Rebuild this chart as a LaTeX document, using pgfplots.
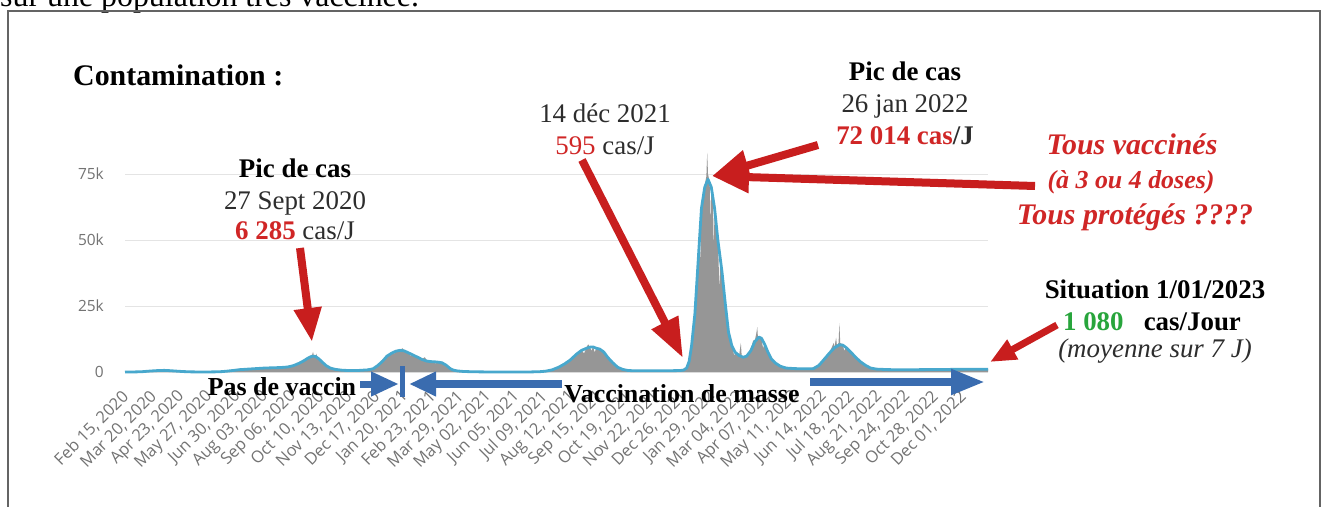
\documentclass[border=0pt]{standalone}
\usepackage{pgfplots}
\pgfplotsset{compat=1.18}
\usepackage{pgfplotstable}
\usepackage{fontspec}
\setmainfont{Liberation Serif}
\newfontfamily\tickfont{Open Sans}
\usetikzlibrary{arrows.meta}
\definecolor{annred}{RGB}{208,38,38}
\definecolor{arrred}{RGB}{200,30,30}
\definecolor{anngreen}{RGB}{40,165,60}
\definecolor{lineblue}{RGB}{72,168,205}
\definecolor{barsgray}{RGB}{150,150,150}
\definecolor{gridgray}{RGB}{228,228,228}
\definecolor{tickgray}{RGB}{115,115,115}
\definecolor{arrblue}{RGB}{58,108,175}
\definecolor{txtdark}{RGB}{45,45,45}
\definecolor{framegray}{RGB}{100,100,100}
\newcommand\fs[1]{\fontsize{#1}{#1}\selectfont}

\pgfplotstableread{
d v
0 0
10 20
20 100
30 350
40 550
48 620
55 500
62 350
70 180
80 60
90 20
100 20
110 60
118 150
125 350
132 600
140 900
150 1100
160 1300
170 1500
180 1600
190 1700
198 1900
205 2400
212 3300
218 4300
223 5300
228 6000
232 5900
236 5000
240 3800
245 2400
250 1500
256 1000
265 650
275 550
285 600
295 800
302 1200
308 2500
314 4200
319 6000
325 7200
330 7900
335 8200
340 8000
345 7300
351 6400
357 5500
362 4700
368 4100
374 3900
380 3800
386 3500
391 2600
396 1300
400 700
405 400
412 200
425 80
440 30
460 20
480 20
495 40
505 120
512 300
520 800
528 1800
535 3000
542 4500
550 6800
556 8200
562 9000
566 9400
570 9500
574 9000
578 8700
583 7600
588 5500
594 3500
600 1800
606 1000
612 600
620 450
635 450
650 500
665 500
675 550
680 700
684 1500
687 4000
690 10000
694 22000
698 42000
702 62000
706 70000
710 73000
714 70000
718 62000
722 50000
727 38000
731 26000
735 15000
739 10000
743 7500
748 6200
753 5600
757 6000
762 8000
767 11500
772 13200
775 12800
779 10500
783 7500
787 5000
792 3400
798 2200
805 1500
815 1300
825 1200
838 1200
845 2500
852 5000
858 7200
864 9200
870 10300
874 10200
878 9300
884 7500
890 5500
896 3800
902 2500
908 1500
915 1100
930 900
950 850
970 900
990 950
1010 1000
1030 1050
1051 1080
}\avgtab

\pgfplotstableread{
d v
0 0
10 30
20 120
30 400
40 600
44 750
48 600
55 450
62 350
70 150
80 50
90 20
100 30
110 80
118 180
125 400
132 700
140 1000
150 1200
160 1400
170 1600
180 1700
190 1900
198 2000
205 2600
212 3500
218 4500
221 5200
222 4200
223 5600
226 6300
227 5000
228 6600
229 7600
230 6200
232 5800
233 7000
234 5600
236 5000
240 3800
245 2400
250 1500
256 1000
265 650
275 550
285 600
295 800
302 1200
308 2600
314 4400
319 6200
325 7400
328 7000
330 8100
332 7600
335 8400
338 9000
340 8200
345 7500
348 6200
351 6600
357 5700
362 4900
365 5600
368 4300
374 4000
378 3200
380 4000
386 3600
391 2700
396 1400
400 700
405 400
412 200
425 80
440 30
460 20
480 20
495 40
505 130
512 320
520 850
528 1900
535 3200
542 4800
546 6000
550 7000
553 8000
556 8400
559 7000
562 9300
564 10500
566 9600
568 8000
570 9700
572 7400
574 9200
578 8900
581 8200
583 7800
588 5700
594 3600
600 1900
606 1000
612 600
620 450
635 450
650 500
665 500
675 550
680 700
684 1600
687 4200
690 11000
694 23000
698 44000
700 52000
701 40000
702 63000
704 68000
706 71000
708 74000
709 83000
710 75000
712 72000
713 55000
714 71000
716 66000
717 45000
718 63000
720 57000
722 51000
724 30000
725 46000
727 39000
731 27000
733 20000
735 16000
739 10500
742 6000
743 8000
748 6500
750 11000
751 6000
753 5800
757 6200
762 8300
765 12000
767 11800
769 15000
770 17000
771 12000
772 13500
775 13000
777 9000
779 10800
783 7800
787 5200
792 3500
798 2300
805 1600
815 1300
825 1300
835 1300
838 1800
845 2700
850 4500
852 5200
855 6500
858 7500
861 9500
863 11000
864 9400
866 13000
867 10000
869 11000
870 18500
871 11000
874 10500
876 8000
878 9500
884 7700
890 5700
896 3900
902 2600
908 1600
915 1100
930 900
950 850
970 900
990 950
1010 1000
1030 1050
1051 1080
}\dailytab

\begin{document}
\begin{tikzpicture}[x=1bp,y=-1bp]
\useasboundingbox (0,0) rectangle (1333,507);
\clip (0,0) rectangle (1333,507);
\fill[white] (0,0) rectangle (1333,507);
\node[anchor=base west, inner sep=0, font=\fs{32}, text=black] at (0,7) {sur une population très vaccinée.};
\draw[line width=2bp, framegray] (8,11) rectangle (1320,560);

\begin{axis}[
  at={(125bp,-372bp)}, anchor=south west,
  scale only axis, width=863bp, height=198bp,
  xmin=0, xmax=1051, ymin=0, ymax=75000,
  clip=false,
  axis line style={draw=none},
  major tick length=0pt,
  ymajorgrids, grid style={gridgray, line width=1bp},
  ytick={0,25000,50000,75000},
  yticklabels={0,25k,50k,75k},
  scaled y ticks=false,
  xtick={0,34,...,1020},
  xticklabels={{Feb 15, 2020},{Mar 20, 2020},{Apr 23, 2020},{May 27, 2020},{Jun 30, 2020},{Aug 03, 2020},{Sep 06, 2020},{Oct 10, 2020},{Nov 13, 2020},{Dec 17, 2020},{Jan 20, 2021},{Feb 23, 2021},{Mar 29, 2021},{May 02, 2021},{Jun 05, 2021},{Jul 09, 2021},{Aug 12, 2021},{Sep 15, 2021},{Oct 19, 2021},{Nov 22, 2021},{Dec 26, 2021},{Jan 29, 2022},{Mar 04, 2022},{Apr 07, 2022},{May 11, 2022},{Jun 14, 2022},{Jul 18, 2022},{Aug 21, 2022},{Sep 24, 2022},{Oct 28, 2022},{Dec 01, 2022}},
  xticklabel style={font=\tickfont\fs{16.5}, text=tickgray, yshift=-22bp, xshift=1bp, rotate=45, anchor=east, inner sep=0pt},
  yticklabel style={font=\tickfont\fs{15.5}, text=tickgray, anchor=east, inner sep=0pt, xshift=-21bp},
]
\addplot[draw=none, fill=barsgray] table[x=d,y=v]{\dailytab} \closedcycle;
\addplot[line width=2.8bp, lineblue, line join=round] table[x=d,y=v]{\avgtab};
\end{axis}

% title
\node[anchor=base west, inner sep=0, font=\fs{30}\bfseries] at (73,86) {Contamination :};

% annotation 1
\node[anchor=base, inner sep=0, font=\fs{27}\bfseries] at (295,178) {Pic de cas};
\node[anchor=base, inner sep=0, font=\fs{27}, text=txtdark] at (295,210) {27 Sept 2020};
\node[anchor=base, inner sep=0, font=\fs{27}, text=txtdark] at (295,240) {\textbf{\textcolor{annred}{6 285}} cas/J};
\draw[arrred, line width=8bp, -{Triangle[length=34bp,width=26bp]}] (300,248) -- (312,342);

% annotation 2
\node[anchor=base, inner sep=0, font=\fs{27}, text=txtdark] at (605,123) {14 déc 2021};
\node[anchor=base, inner sep=0, font=\fs{27}, text=txtdark] at (605,155) {\textcolor{annred}{595} cas/J};
\draw[arrred, line width=8bp, -{Triangle[length=40bp,width=28bp]}] (582,160) -- (683,358);

% annotation 3
\node[anchor=base, inner sep=0, font=\fs{27}\bfseries] at (905,81) {Pic de cas};
\node[anchor=base, inner sep=0, font=\fs{27}, text=txtdark] at (905,113) {26 jan 2022};
\node[anchor=base, inner sep=0, font=\fs{27}\bfseries, text=txtdark] at (905,145) {\textcolor{annred}{72 014 cas}/J};
\draw[arrred, line width=8bp, -{Triangle[length=37bp,width=30bp]}] (818,145) -- (712,176);
\draw[arrred, line width=8bp, -{Triangle[length=37bp,width=30bp]}] (1035,186) -- (712,176);

% annotation 4
\node[anchor=base, inner sep=0, font=\fs{30}\bfseries\itshape, text=annred] at (1132,155) {Tous vaccinés};
\node[anchor=base, inner sep=0, font=\fs{26}\bfseries\itshape, text=annred] at (1131,189) {(à 3 ou 4 doses)};
\node[anchor=base, inner sep=0, font=\fs{30}\bfseries\itshape, text=annred] at (1135,225) {Tous protégés ????};

% annotation 5
\node[anchor=base, inner sep=0, font=\fs{27}\bfseries] at (1155,298) {Situation 1/01/2023};
\node[anchor=base, inner sep=0, font=\fs{27}\bfseries] at (1152,330) {\textcolor{anngreen}{1 080}\hspace{0.5em} cas/Jour};
\node[anchor=base, inner sep=0, font=\fs{27}\itshape, text=txtdark] at (1155,357) {(moyenne sur 7 J)};
\draw[arrred, line width=7bp, -{Triangle[length=26bp,width=21bp]}] (1057,325) -- (990,362);

% vaccination arrows
\draw[arrblue, line width=7bp, -{Triangle[length=28bp,width=23bp]}] (360,384) -- (399,384);
\draw[arrblue, line width=5bp] (402,366) -- (402,397);
\draw[arrblue, line width=8bp, -{Triangle[length=27bp,width=23bp]}] (562,384) -- (409,384);
\draw[arrblue, line width=8bp, -{Triangle[length=34bp,width=24bp]}] (810,382) -- (985,382);
\node[anchor=base, inner sep=0, font=\fs{26}\bfseries] at (282,395) {Pas de vaccin};
\node[anchor=base, inner sep=0, font=\fs{26}\bfseries] at (682,402) {Vaccination de masse};
\end{tikzpicture}
\end{document}
